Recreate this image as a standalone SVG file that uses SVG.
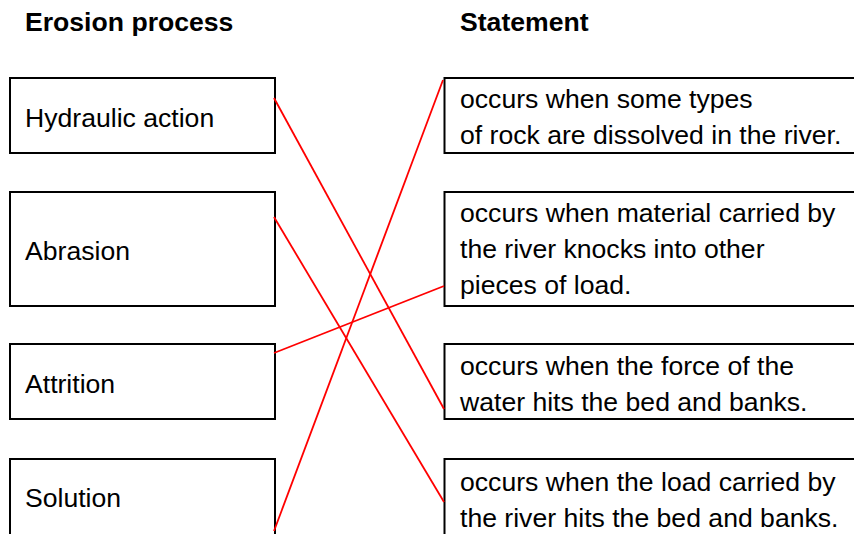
<svg xmlns="http://www.w3.org/2000/svg" width="854" height="534" viewBox="0 0 854 534">
<style>
.box{fill:#fff;stroke:#000;stroke-width:2}
.t{font-family:"Liberation Sans",Arial,sans-serif;font-size:26.6px;fill:#000}
.h{font-family:"Liberation Sans",Arial,sans-serif;font-size:26.6px;font-weight:bold;fill:#000}
.c{stroke:#f00;stroke-width:1.8;fill:none}
</style>
<rect width="854" height="534" fill="#fff"/>
<text class="h" x="25" y="31">Erosion process</text>
<text class="h" x="460" y="31">Statement</text>
<g id="hydraulic"><rect class="box" x="10" y="78" width="265" height="75"/><text class="t" x="25" y="127">Hydraulic action</text></g>
<g id="abrasion"><rect class="box" x="10" y="192" width="265" height="114"/><text class="t" x="25" y="260">Abrasion</text></g>
<g id="attrition"><rect class="box" x="10" y="344" width="265" height="75"/><text class="t" x="25" y="393">Attrition</text></g>
<g id="solution"><rect class="box" x="10" y="459" width="265" height="90"/><text class="t" x="25" y="507">Solution</text></g>
<g id="s1"><rect class="box" x="444.5" y="78" width="420" height="75"/><text class="t" x="460" y="108">occurs when some types</text><text class="t" x="460" y="144">of rock are dissolved in the river.</text></g>
<g id="s2"><rect class="box" x="444.5" y="192" width="420" height="114"/><text class="t" x="460" y="222">occurs when material carried by</text><text class="t" x="460" y="258">the river knocks into other</text><text class="t" x="460" y="294">pieces of load.</text></g>
<g id="s3"><rect class="box" x="444.5" y="344" width="420" height="75"/><text class="t" x="460" y="375">occurs when the force of the</text><text class="t" x="460" y="411">water hits the bed and banks.</text></g>
<g id="s4"><rect class="box" x="444.5" y="459" width="420" height="90"/><text class="t" x="460" y="491">occurs when the load carried by</text><text class="t" x="460" y="527">the river hits the bed and banks.</text></g>
<g id="connectors">
<line class="c" x1="274" y1="98" x2="444" y2="409"/>
<line class="c" x1="274" y1="217" x2="444" y2="502"/>
<line class="c" x1="274" y1="353" x2="444" y2="286"/>
<line class="c" x1="274" y1="531" x2="443" y2="80"/>
</g>
</svg>
